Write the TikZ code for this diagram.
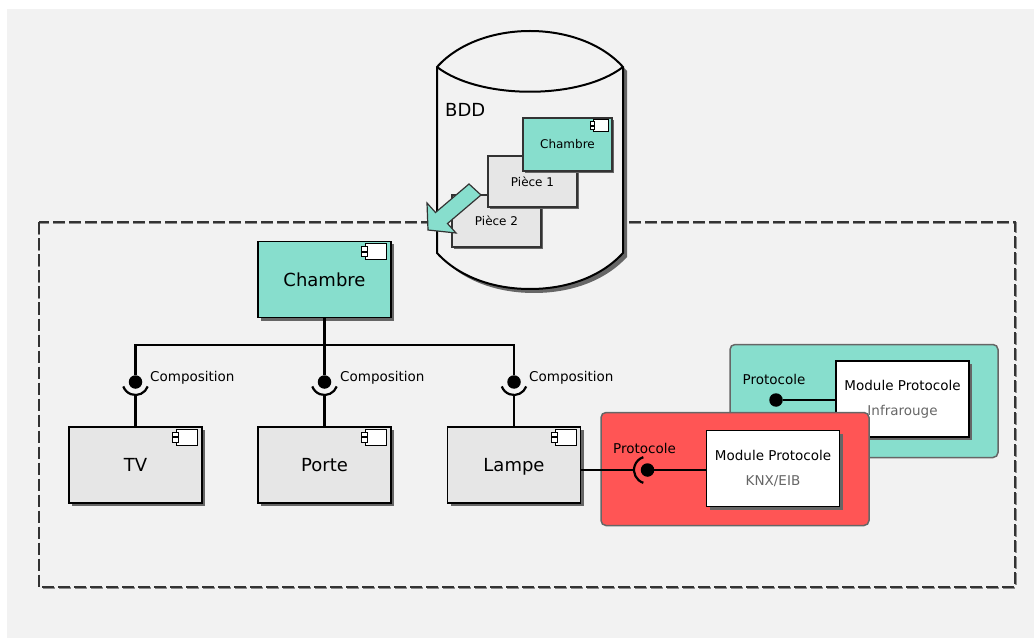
\documentclass[tikz,border=0pt]{standalone}
\usepackage{fontspec}
\setmainfont{DejaVu Sans}
\usetikzlibrary{shadows,calc}
\definecolor{bgc}{HTML}{F2F2F2}
\definecolor{cteal}{HTML}{87DECD}
\definecolor{cred}{HTML}{FF5555}
\definecolor{boxgrey}{HTML}{E6E6E6}
\definecolor{darkline}{HTML}{333333}
\definecolor{grptext}{HTML}{666666}
\tikzset{
  comp/.style={draw=black, line width=1.4pt, fill=boxgrey, minimum width=133pt, minimum height=76pt,
    inner sep=0pt, text height=13.2pt, text depth=0pt, font=\fontsize{18}{21}\selectfont,
    drop shadow={shadow xshift=3pt, shadow yshift=-3pt, fill=black!60, opacity=1}},
  smallbox/.style={draw=darkline, line width=1.2pt, fill=boxgrey, minimum width=89pt, inner sep=0pt,
    font=\fontsize{12}{14}\selectfont,
    drop shadow={shadow xshift=2pt, shadow yshift=-2pt, fill=black!60, opacity=1}},
  modbox/.style={draw=black, line width=1.4pt, fill=white, minimum width=133pt, minimum height=76pt,
    inner sep=0pt, align=center, font=\fontsize{13.5}{25}\selectfont,
    drop shadow={shadow xshift=3pt, shadow yshift=-3pt, fill=black!60, opacity=1}},
  grp/.style={draw=grptext, line width=1.5pt, rounded corners=5pt, minimum width=268pt, minimum height=113pt},
  conn/.style={draw=black, line width=2.2pt},
  ball/.style={circle, fill=black, inner sep=0pt, minimum size=13.5pt},
  lbl/.style={font=\fontsize{13.5}{16}\selectfont, anchor=west, inner sep=0pt},
  compicon/.pic={
    \draw[black, line width=1pt, fill=white] (-26,3) rectangle (-5,19);
    \draw[black, line width=1pt, fill=white] (-30,6) rectangle (-24,10.5);
    \draw[black, line width=1pt, fill=white] (-30,11.5) rectangle (-24,16);
  }
}
\begin{document}
\begin{tikzpicture}[x=1pt,y=-1pt]
\useasboundingbox (0,0) rectangle (1034,639);
\fill[bgc] (7,9) rectangle (1034,638);
% dashed frame
\draw[black!45, line width=2pt, dash pattern=on 12pt off 4pt, shift={(0.8,0.8)}] (38.5,222.5) rectangle (1015,587);
\draw[darkline, line width=2pt, dash pattern=on 12pt off 4pt] (38.5,222.5) rectangle (1015,587);
% cylinder (BDD)
\fill[black!60, shift={(4,4)}] (437,67) .. controls (480,19) and (580,19) .. (623,67) -- (623,253)
   .. controls (600,278) and (565,289) .. (530,289) .. controls (495,289) and (460,278) .. (437,253) -- cycle;
\filldraw[fill=bgc, draw=black, line width=2pt] (437,67) .. controls (480,19) and (580,19) .. (623,67) -- (623,253)
   .. controls (600,278) and (565,289) .. (530,289) .. controls (495,289) and (460,278) .. (437,253) -- cycle;
\draw[black, line width=2pt] (437,67) .. controls (480,100) and (580,100) .. (623,67);
\node[font=\fontsize{18}{21}\selectfont, anchor=west, inner sep=0pt] (bdd) at (445,110) {BDD};
\node[smallbox, minimum height=52pt] (p2) at (496.5,221) {Pièce 2};
\node[smallbox, minimum height=51pt] (p1) at (532.5,181.5) {Pièce 1};
\node[smallbox, minimum height=53pt, fill=cteal] (cs) at (567.5,144.5) {Chambre};
\pic[scale=0.75] at (cs.north east) {compicon};
% big arrow
\filldraw[fill=cteal, draw=darkline, line width=1.2pt, line join=miter]
  (428,230) -- (456,233) -- (447.5,223.5) -- (481,195) -- (469,184) -- (435.5,212.5) -- (427,203) -- cycle;
% components
\node[comp, fill=cteal] (chambre) at (324.5,279.5) {Chambre};
\pic at (chambre.north east) {compicon};
\node[comp] (tv) at (135.5,465) {TV};
\pic at (tv.north east) {compicon};
\node[comp] (porte) at (324.5,465) {Porte};
\pic at (porte.north east) {compicon};
\node[comp] (lampe) at (514,465) {Lampe};
\pic at (lampe.north east) {compicon};
% composition tree
\coordinate (hub) at (324.5,345);
\node[ball] (b1) at (135.5,382) {};
\node[ball] (b2) at (324.5,382) {};
\node[ball] (b3) at (514,382) {};
\draw[conn] (chambre.south) -- (hub);
\draw[conn] (hub) -| (b1.north);
\draw[conn] (hub) -- (b2.north);
\draw[conn] (hub) -| (b3.north);
\foreach \b/\t in {b1/tv,b2/porte,b3/lampe}{
  \draw[conn] ([shift={(20:13)}]\b.center) arc[start angle=20, end angle=160, radius=13];
  \draw[conn] ($(\b.center)+(0,13)$) -- (\t.north);
}
\node[lbl] (c1) at (150,378) {Composition};
\node[lbl] (c2) at (340,378) {Composition};
\node[lbl] (c3) at (529,378) {Composition};
% teal group
\node[grp, fill=cteal] (gir) at (864,401) {};
\node[modbox] (mir) at (902.5,399) {Module Protocole\\\textcolor{grptext}{Infrarouge}};
\node[ball] (bir) at (776,400) {};
\draw[conn] (bir) -- (bir -| mir.west);
\node[lbl] (pir) at (742.5,379) {Protocole};
% red group
\node[grp, fill=cred] (gknx) at (735,469) {};
\node[modbox] (mknx) at (773,468.5) {Module Protocole\\\textcolor{grptext}{KNX/EIB}};
\node[ball] (bknx) at (647.5,470) {};
\draw[conn] (bknx) -- (bknx -| mknx.west);
\draw[conn] ([shift={(108:13.5)}]bknx.center) arc[start angle=108, end angle=252, radius=13.5];
\draw[conn] (lampe.east |- bknx) -- ($(bknx.center)+(-13.5,0)$);
\node[lbl] (pknx) at (613,448) {Protocole};
\end{tikzpicture}
\end{document}
